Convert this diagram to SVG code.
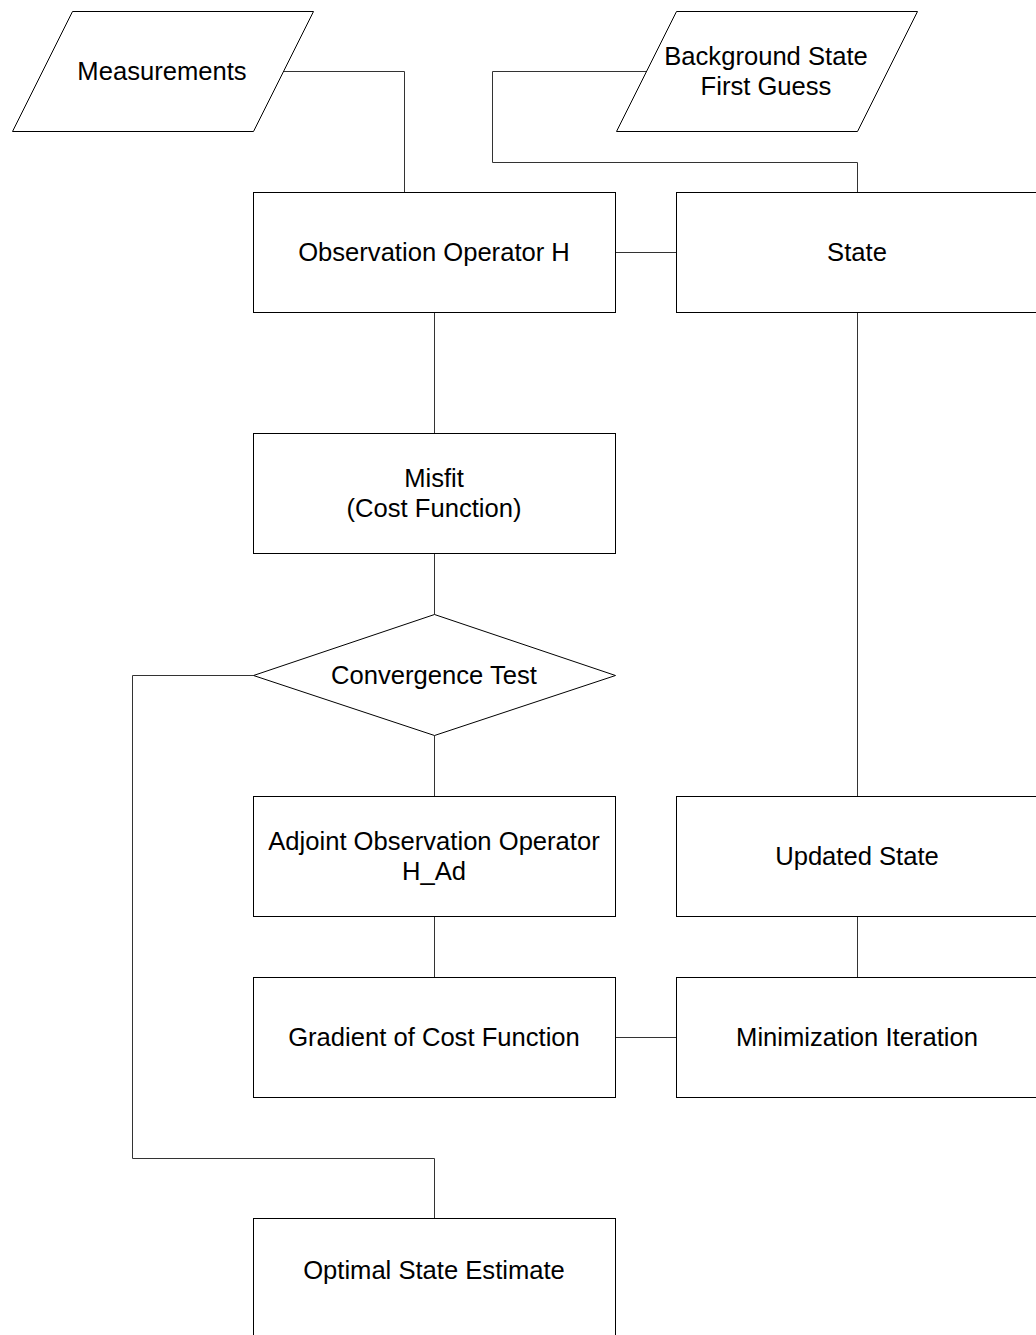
<svg xmlns="http://www.w3.org/2000/svg" width="1036" height="1335" viewBox="0 0 1036 1335">
  <style>
    .shape { fill: #ffffff; stroke: #000000; stroke-width: 1; }
    .edge { fill: none; stroke: #333333; stroke-width: 1; }
    .label { font-family: "Liberation Sans", Arial, Helvetica, sans-serif; font-size: 25.6px; fill: #000000; text-anchor: middle; dominant-baseline: central; }
  </style>
  <rect width="1036" height="1335" fill="#ffffff"/>

  <!-- connectors -->
  <g id="connectors">
    <polyline class="edge" points="283,71.5 404.5,71.5 404.5,192.5"/>
    <polyline class="edge" points="646,71.5 492.5,71.5 492.5,162.5 857.5,162.5 857.5,192.5"/>
    <line class="edge" x1="615.5" y1="252.5" x2="676.5" y2="252.5"/>
    <line class="edge" x1="434.5" y1="312.5" x2="434.5" y2="433.5"/>
    <line class="edge" x1="434.5" y1="553.5" x2="434.5" y2="614.5"/>
    <line class="edge" x1="434.5" y1="735.5" x2="434.5" y2="796.5"/>
    <line class="edge" x1="434.5" y1="916.5" x2="434.5" y2="977.5"/>
    <line class="edge" x1="615.5" y1="1037.5" x2="676.5" y2="1037.5"/>
    <line class="edge" x1="857.5" y1="312.5" x2="857.5" y2="796.5"/>
    <line class="edge" x1="857.5" y1="916.5" x2="857.5" y2="977.5"/>
    <polyline class="edge" points="253.5,675.5 132.5,675.5 132.5,1158.5 434.5,1158.5 434.5,1218.5"/>
  </g>

  <!-- nodes -->
  <g id="measurements">
    <polygon class="shape" points="72.5,11.5 313.5,11.5 253.5,131.5 12.5,131.5"/>
    <text class="label" x="162" y="71">Measurements</text>
  </g>
  <g id="background-state">
    <polygon class="shape" points="676.5,11.5 917.5,11.5 857.5,131.5 616.5,131.5"/>
    <text class="label" x="766" y="56">Background State</text>
    <text class="label" x="766" y="86">First Guess</text>
  </g>
  <g id="observation-operator">
    <rect class="shape" x="253.5" y="192.5" width="362" height="120"/>
    <text class="label" x="434" y="252">Observation Operator H</text>
  </g>
  <g id="state">
    <rect class="shape" x="676.5" y="192.5" width="362" height="120"/>
    <text class="label" x="857" y="252">State</text>
  </g>
  <g id="misfit">
    <rect class="shape" x="253.5" y="433.5" width="362" height="120"/>
    <text class="label" x="434" y="478">Misfit</text>
    <text class="label" x="434" y="508">(Cost Function)</text>
  </g>
  <g id="convergence-test">
    <polygon class="shape" points="434.5,614.5 615.5,675.5 434.5,735.5 253.5,675.5"/>
    <text class="label" x="434" y="675">Convergence Test</text>
  </g>
  <g id="adjoint-operator">
    <rect class="shape" x="253.5" y="796.5" width="362" height="120"/>
    <text class="label" x="434" y="841">Adjoint Observation Operator</text>
    <text class="label" x="434" y="871">H_Ad</text>
  </g>
  <g id="updated-state">
    <rect class="shape" x="676.5" y="796.5" width="362" height="120"/>
    <text class="label" x="857" y="856">Updated State</text>
  </g>
  <g id="gradient">
    <rect class="shape" x="253.5" y="977.5" width="362" height="120"/>
    <text class="label" x="434" y="1037">Gradient of Cost Function</text>
  </g>
  <g id="minimization">
    <rect class="shape" x="676.5" y="977.5" width="362" height="120"/>
    <text class="label" x="857" y="1037">Minimization Iteration</text>
  </g>
  <g id="optimal-estimate">
    <rect class="shape" x="253.5" y="1218.5" width="362" height="120"/>
    <text class="label" x="434" y="1270">Optimal State Estimate</text>
  </g>
</svg>
